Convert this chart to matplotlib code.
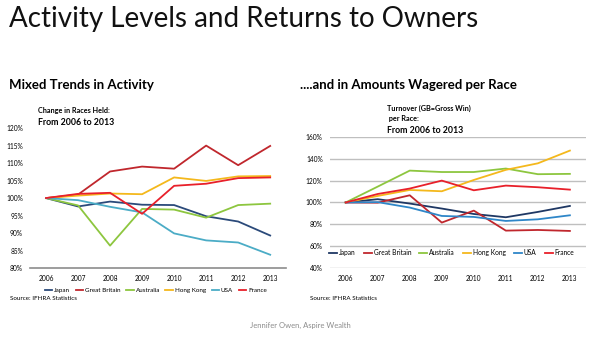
import matplotlib
matplotlib.use("Agg")
import matplotlib.pyplot as plt
from matplotlib.ticker import FuncFormatter

plt.rcParams["font.family"] = ["Lato", "DejaVu Sans"]

years = ["2006", "2007", "2008", "2009", "2010", "2011", "2012", "2013"]
countries = ["Japan", "Great Britain", "Australia", "Hong Kong", "USA", "France"]
colors = ["#1F3864", "#C0272D", "#8DC63F", "#F4B81C", "#2E86C8", "#E8202A"]
colors_left = ["#2B4A7A", "#C0272D", "#8DC63F", "#F4B81C", "#4BACC6", "#E8202A"]

# change in races held (% of 2006)
races_japan = [100, 97.6, 99.0, 98.1, 98.0, 94.8, 93.3, 89.3]
races_gb = [100, 101.0, 107.6, 109.0, 108.4, 115.0, 109.4, 114.9]
races_australia = [100, 97.9, 86.4, 96.9, 96.7, 94.4, 98.0, 98.4]
races_hk = [100, 100.7, 101.3, 101.1, 105.9, 104.9, 106.2, 106.3]
races_usa = [100, 99.4, 97.5, 95.9, 89.9, 87.9, 87.3, 83.8]
races_france = [100, 101.2, 101.5, 95.5, 103.5, 104.1, 105.7, 105.9]

# turnover per race (% of 2006)
turn_japan = [100, 103.0, 99.0, 94.4, 89.4, 86.4, 91.3, 96.8]
turn_gb = [100, 99.8, 106.6, 81.5, 92.5, 74.1, 74.7, 73.8]
turn_australia = [100, 114.6, 129.3, 128.0, 128.0, 131.2, 126.0, 126.3]
turn_hk = [100, 106.0, 111.5, 110.3, 120.7, 130.0, 136.0, 147.7]
turn_usa = [100, 100.3, 95.3, 87.6, 86.7, 83.0, 84.5, 88.2]
turn_france = [100, 107.8, 112.8, 120.1, 111.2, 115.5, 114.0, 111.8]

races = [races_japan, races_gb, races_australia, races_hk, races_usa, races_france]
turnover = [turn_japan, turn_gb, turn_australia, turn_hk, turn_usa, turn_france]

pct = FuncFormatter(lambda v, p: f"{v:.0f}%")

fig = plt.figure(figsize=(6, 3.38), dpi=100)

fig.text(0.015, 0.945, "Activity Levels and Returns to Owners", fontsize=20,
         va="center", ha="left", color="#111111")
fig.text(0.015, 0.748, "Mixed Trends in Activity", fontsize=9.5, fontweight="bold",
         va="center", ha="left")
fig.text(0.5, 0.748, "....and in Amounts Wagered per Race", fontsize=9.5,
         fontweight="bold", va="center", ha="left")

# ---- left: races held ----
axL = fig.add_axes([0.05, 0.207, 0.427, 0.414])
x = range(len(years))
for vals, c, name in zip(races, colors_left, countries):
    axL.plot(x, vals, color=c, lw=1.3, label=name)
axL.set_xlim(-0.5, 7.5)
axL.set_ylim(80, 120)
axL.set_yticks(range(80, 121, 5))
axL.yaxis.set_major_formatter(pct)
axL.set_xticks(list(x))
axL.set_xticklabels(years)
for s in ("top", "right", "left"):
    axL.spines[s].set_visible(False)
axL.spines["bottom"].set_color("#8C8C8C")
axL.spines["bottom"].set_linewidth(1.2)
axL.tick_params(length=0, labelsize=4.8, pad=5)
axL.legend(loc="upper left", bbox_to_anchor=(0.04, -0.11), ncol=6, frameon=False,
           fontsize=4.5, handlelength=1.2, handletextpad=0.3, columnspacing=0.9,
           borderpad=0.2)
fig.text(0.063, 0.672, "Change in Races Held:", fontsize=5.2, fontweight="bold",
         va="center", ha="left")
fig.text(0.063, 0.638, "From 2006 to 2013", fontsize=6.3, fontweight="bold",
         va="center", ha="left")
fig.text(0.017, 0.118, "Source: IFHRA Statistics", fontsize=4.5, va="center", ha="left")

# ---- right: turnover per race ----
axR = fig.add_axes([0.5495, 0.208, 0.427, 0.386])
for vals, c, name in zip(turnover, colors, countries):
    axR.plot(x, vals, color=c, lw=1.3, label=name)
axR.set_xlim(-0.5, 7.5)
axR.set_ylim(40, 160)
axR.set_yticks(range(40, 161, 20))
axR.yaxis.set_major_formatter(pct)
axR.set_xticks(list(x))
axR.set_xticklabels(years)
axR.grid(axis="y", color="#BFBFBF", lw=1.0)
axR.set_axisbelow(True)
for s in ("top", "right", "left", "bottom"):
    axR.spines[s].set_visible(False)
axR.tick_params(length=0, labelsize=4.8, pad=5)
axR.legend(loc="center left", bbox_to_anchor=(-0.02, 0.115), ncol=6, frameon=True,
           facecolor="white", edgecolor="none", framealpha=1, fontsize=4.8,
           handlelength=1.2, handletextpad=0.3, columnspacing=1.2, borderpad=0.2)
fig.text(0.645, 0.678, "Turnover (GB=Gross Win)", fontsize=5.2, fontweight="bold",
         va="center", ha="left")
fig.text(0.645, 0.649, " per Race:", fontsize=5.2, fontweight="bold",
         va="center", ha="left")
fig.text(0.645, 0.615, "From 2006 to 2013", fontsize=6.3, fontweight="bold",
         va="center", ha="left")
fig.text(0.517, 0.118, "Source: IFHRA Statistics", fontsize=4.5, va="center", ha="left")

fig.text(0.5, 0.038, "Jennifer Owen, Aspire Wealth", fontsize=5.5, color="#8C8C8C",
         va="center", ha="center")

fig.savefig("out.png", dpi=100)
